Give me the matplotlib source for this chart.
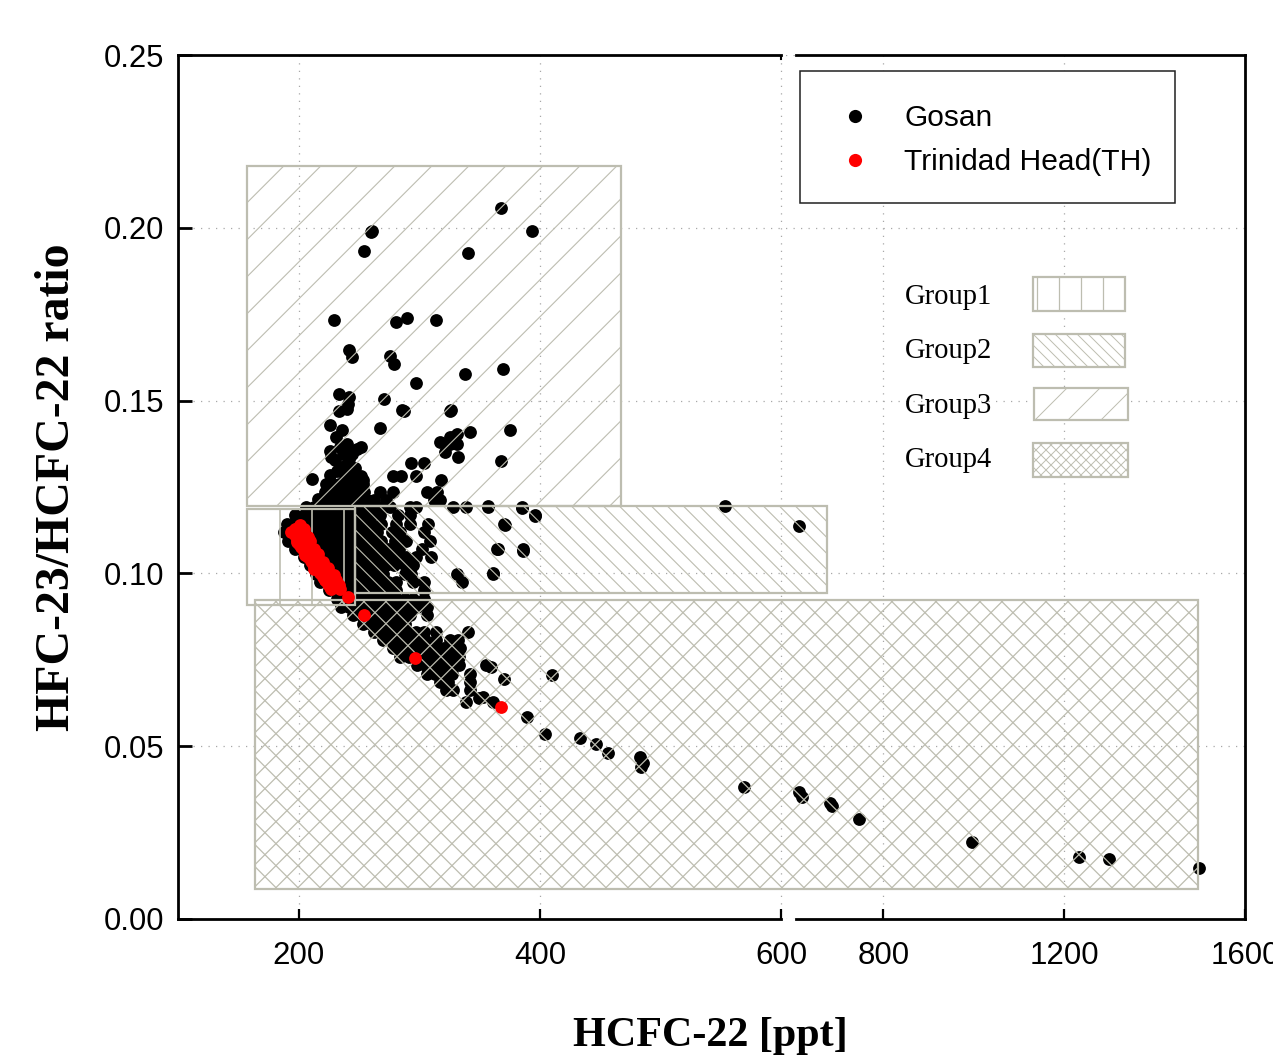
import numpy as np
import matplotlib
matplotlib.use('Agg')
import matplotlib.pyplot as plt
from matplotlib.collections import LineCollection
from matplotlib.patches import Rectangle
from matplotlib.transforms import Affine2D, Bbox, IdentityTransform

W, H = 1273, 1061
SANS = 'Liberation Sans'
SERIF = 'Liberation Serif'
GREY = '#bdbdb0'

# ---- data: Gosan, isolated points
gosan_ppt = [368, 393, 260, 261, 254, 340, 229, 314, 290, 281, 242, 244, 276, 279, 297, 338, 369, 233,
             242, 241, 271, 286, 326, 375, 226, 267, 368, 233, 240, 287, 325,
             325, 317, 331, 342, 321, 332, 328, 325, 331,
             231, 226, 234, 240, 248, 252, 230, 237, 242, 234, 240, 227, 246, 244, 236,
             223, 228, 240, 253, 246, 238, 252, 278, 285, 297, 211, 318, 253, 304, 293,
             222, 229, 236, 243, 250, 257, 262, 272, 312, 317, 225, 232, 240, 247, 254, 267, 278, 306, 315,
             553, 614, 364, 386, 361, 371, 385, 396, 357, 339, 353, 361, 389, 410, 404, 433, 446, 456,
             483, 485, 484, 569, 614, 621, 683, 687, 747, 997, 1233, 1300, 1498, 370, 359, 349,
             233, 246, 226, 232, 247, 240, 222, 216, 218]
gosan_ratio = [.2057, .1991, .1988, .199, .1934, .1928, .1732, .1732, .174, .1726, .1645, .1625, .163, .1607, .155, .1578, .159, .152,
               .151, .149, .1506, .1474, .1474, .1416, .143, .142, .1326, .147, .1476, .147, .147,
               .1394, .138, .1404, .1408, .135, .1336, .1394, .1375, .1375,
               .1394, .1355, .1365, .1375, .136, .1365, .1327, .1346, .1331, .1307, .1317, .1336, .1285, .1345, .1415,
               .1259, .1259, .1259, .1259, .1283, .1283, .1283, .1283, .1283, .1283, .1273, .1269, .1269, .132, .132,
               .1211, .1211, .1211, .1211, .1211, .1211, .1211, .1211, .1211, .1211, .1235, .1235, .1235, .1235, .1235, .1235, .1235, .1235, .1235,
               .1196, .1136, .1072, .1066, .1, .114, .119, .1165, .1196, .0628, .0643, .0628, .0585, .0705, .0535, .0523, .0506, .048,
               .047, .045, .044, .0381, .0367, .0352, .0335, .0327, .0289, .0222, .0179, .0173, .0147, .0693, .073, .064,
               .1259, .1265, .1285, .1295, .1305, .1295, .1235, .1215, .1195]

# ---- data: Gosan, dense band read row by row
dense_ratio = [.1192, .1168, .1144, .112, .1095, .1071, .1047, .1023, .0999, .0975, .0951, .0927,
               .0903, .0879, .0855, .0831, .0807, .0783, .0758, .0734, .071, .0686, .0662]
dense_ppt = [
    [206, 213, 220, 227, 234, 241, 248, 255, 262, 270, 276, 292, 297, 328, 339, 357, 385],
    [197, 204, 211, 218, 225, 232, 239, 246, 253, 260, 267, 282, 292, 396],
    [190, 197, 204, 211, 218, 225, 232, 239, 246, 253, 260, 268, 281, 292, 307, 370],
    [188, 195, 202, 209, 216, 223, 230, 237, 244, 251, 258, 265, 277, 284, 304],
    [191, 198, 205, 212, 219, 226, 233, 240, 247, 254, 261, 268, 280, 289, 309],
    [197, 204, 211, 218, 225, 232, 239, 246, 253, 260, 267, 274, 283, 302, 365, 386],
    [204, 211, 218, 225, 232, 239, 246, 253, 260, 267, 274, 281, 289, 297, 310],
    [209, 216, 223, 230, 237, 244, 251, 258, 265, 272, 279, 288, 295],
    [214, 221, 228, 235, 242, 249, 256, 263, 270, 288, 293, 331, 361],
    [218, 225, 232, 239, 246, 253, 260, 267, 274, 281, 295, 304, 335],
    [225, 232, 239, 246, 253, 260, 267, 274, 281, 304],
    [232, 239, 246, 253, 260, 267, 274, 281, 288, 295, 304],
    [235, 242, 249, 256, 263, 270, 277, 284, 291, 298, 306],
    [245, 252, 259, 266, 273, 280, 287, 292, 306],
    [253, 260, 267, 274, 281, 288],
    [262, 269, 276, 283, 290, 297, 304, 314, 340],
    [270, 277, 284, 291, 298, 305, 314, 325, 332],
    [278, 285, 292, 299, 306, 313, 320, 327, 334],
    [284, 291, 298, 305, 312, 319, 326, 333],
    [298, 305, 312, 319, 326, 333, 355],
    [306, 313, 320, 327, 342],
    [317, 324, 342],
    [322, 328, 342],
]

# ---- data: Trinidad Head
th_ppt = [197, 201, 197, 204, 200, 207, 204, 211, 208, 215, 212, 218, 216, 222, 220, 226, 224, 231, 227, 234, 241, 254, 296, 368,
          194, 199, 202, 206, 210, 214, 218, 222, 226, 230,
          198, 199, 205, 213, 222, 230, 204, 208, 213, 220, 229, 233, 209, 216, 224]
th_ratio = [.1129, .1139, .111, .111, .1086, .1086, .1066, .1066, .1047, .1047, .1028, .1028, .1009, .1009,
            .099, .099, .097, .098, .0956, .0956, .0932, .0879, .0756, .0614,
            .112, .1098, .1076, .1056, .1037, .1018, .1, .098, .096, .097,
            .1129, .1091, .1052, .1014, .098, .0961, .1129, .1105, .1071, .1033, .0994, .0965, .1095, .1055, .1015]

# ---- data: group extents (ppt low, ppt high, ratio low, ratio high)
group1 = (157, 246.5, .091, .1185)
group2 = (246.5, 676, .0942, .1196)
group3 = (157, 467, .1196, .2179)
group4 = (164, 1496, .0087, .0922)

x_ticks = [200, 400, 600, 800, 1200, 1600]
y_ticks = [0.00, 0.05, 0.10, 0.15, 0.20, 0.25]
group_names = ['Group1', 'Group2', 'Group3', 'Group4']
series_names = ['Gosan', 'Trinidad Head(TH)']


def forward(x):
    x = np.asarray(x, dtype=float)
    return np.where(x <= 600, (x - 100) * 1.208, 604 + 11.5 + (x - 600) * 0.4525)


def inverse(v):
    v = np.asarray(v, dtype=float)
    return np.where(v <= 604, 100 + v / 1.208, 600 + (v - 615.5) / 0.4525)


fig = plt.figure(figsize=(W / 100, H / 100), dpi=100, facecolor='white')
ax = fig.add_axes([178 / W, 1 - 919 / H, (1245 - 178) / W, (919 - 55) / H])
ax.set_xscale('function', functions=(forward, inverse))
ax.set_xlim(100, 1600)
ax.set_ylim(0, 0.25)
px = Affine2D().scale(1 / W, -1 / H).translate(0, 1) + fig.transFigure  # image pixels

for s in ('top', 'bottom'):
    ax.spines[s].set_visible(False)
for s in ('left', 'right'):
    ax.spines[s].set_linewidth(2.0)
xt = ax.get_xaxis_transform()
for y in (0, 1):
    for a, b in ((100, 600), (606, 1600)):
        ax.plot([a, b], [y, y], color='black', lw=2.0, transform=xt, clip_on=False, zorder=6, solid_capstyle='projecting')
ax.plot([600, 600], [1, 0.995], color='black', lw=1.5, transform=xt, zorder=6)

ax.set_xticks(x_ticks)
ax.set_xticklabels([str(t) for t in x_ticks], fontsize=22.5, fontfamily=SANS)
ax.set_yticks(y_ticks)
ax.set_yticklabels([f'{t:.2f}' for t in y_ticks], fontsize=22.3, fontfamily=SANS)
ax.minorticks_off()
ax.tick_params(axis='x', direction='in', length=7.5, width=1.6, pad=16)
ax.tick_params(axis='y', direction='in', length=10, width=2.0, pad=10)
ax.grid(True, color='#a8a8a8', lw=0.9, linestyle=(0, (1, 5)), zorder=0)
ax.set_axisbelow(True)

gx, gy = [], []
for r, xs in zip(dense_ratio, dense_ppt):
    gx += xs
    gy += [r] * len(xs)
gx += gosan_ppt
gy += gosan_ratio
MS = 85
ax.scatter(gx, gy, s=MS, color='black', linewidths=0, zorder=2)
ax.scatter(th_ppt, th_ratio, s=MS, color='#ff0000', linewidths=0, zorder=5)


def data_box(g):
    (a, c), (b, d) = ax.transData.transform([(g[0], g[2]), (g[1], g[3])])
    return a, c, b, d


def px_box(l, t, r, b):
    (a, c), (e, d) = px.transform([(l, b), (r, t)])
    return a, c, e, d


def add_group(box, spacing, dirs, lw=0.8, first=None):
    """Outline plus hand-spaced hatching for a display-space box."""
    x0, y0, x1, y1 = box
    w, h = x1 - x0, y1 - y0
    segs = []
    for d in dirs:
        if d == 'v':
            start = x0 + (spacing if first is None else first)
            segs += [[(x, y0), (x, y1)] for x in np.arange(start, x1, spacing)]
        else:
            for c in np.arange(-h - spacing, w + h + spacing, spacing):
                if d == '/':
                    segs.append([(x0 + c, y0), (x0 + c + h, y1)])
                else:
                    segs.append([(x0 + c, y1), (x0 + c + h, y0)])
    lc = LineCollection(segs, colors=GREY, linewidths=lw, zorder=3)
    ax.add_artist(lc)
    lc.set_transform(IdentityTransform())
    lc.set_clip_box(Bbox([[x0, y0], [x1, y1]]))
    ax.add_artist(Rectangle((x0, y0), w, h, fill=False, edgecolor=GREY, lw=1.6,
                            transform=IdentityTransform(), zorder=3.1, clip_on=False))


add_group(data_box(group3), 37, '/', 0.8)
add_group(data_box(group1), 32, 'v', 1.2, first=33)
add_group(data_box(group2), 16, '\\', 0.8)
add_group(data_box(group4), 22, '/\\', 0.9)

# legend box
ax.add_patch(Rectangle((800, 71), 375, 132, fill=True, facecolor='white', edgecolor='#202020', lw=1.1,
                       transform=px, zorder=4, clip_on=False))
ax.scatter([855], [116], s=90, color='black', linewidths=0, transform=px, zorder=7)
ax.scatter([855], [160], s=90, color='#ff0000', linewidths=0, transform=px, zorder=7)
ax.text(905, 118, series_names[0], fontsize=21.5, fontfamily=SANS, va='center', ha='left', transform=px, zorder=7)
ax.text(904, 162, series_names[1], fontsize=21.6, fontfamily=SANS, va='center', ha='left', transform=px, zorder=7)

# group key
key_boxes = [(1033, 277, 1125, 311), (1033, 334, 1125, 367), (1034, 388, 1128, 420), (1033, 443, 1128, 477)]
key_y = [297, 351, 406, 460]
key_hatch = [(22, 'v', 0.9, 4), (11, '\\', 0.7, None), (33, '/', 0.7, None), (10, '/\\', 0.7, None)]
for name, b, y, (sp, d, lw, first) in zip(group_names, key_boxes, key_y, key_hatch):
    ax.text(905, y, name, fontsize=20.6, fontfamily=SERIF, va='center', ha='left', transform=px, zorder=7)
    ax.add_patch(Rectangle((b[0], b[1]), b[2] - b[0], b[3] - b[1], fill=True, facecolor='white', edgecolor='none',
                           transform=px, zorder=2.9))
    add_group(px_box(*b), sp, d, lw, first)

fig.text(710 / W, 1 - 1036 / H, 'HCFC-22 [ppt]', fontsize=30.3, fontweight='bold', fontfamily=SERIF, ha='center', va='center')
fig.text(57 / W, 1 - 487 / H, 'HFC-23/HCFC-22 ratio', fontsize=34.5, fontweight='bold', fontfamily=SERIF, rotation=90,
         ha='center', va='center')

fig.savefig('out.png', dpi=100)
